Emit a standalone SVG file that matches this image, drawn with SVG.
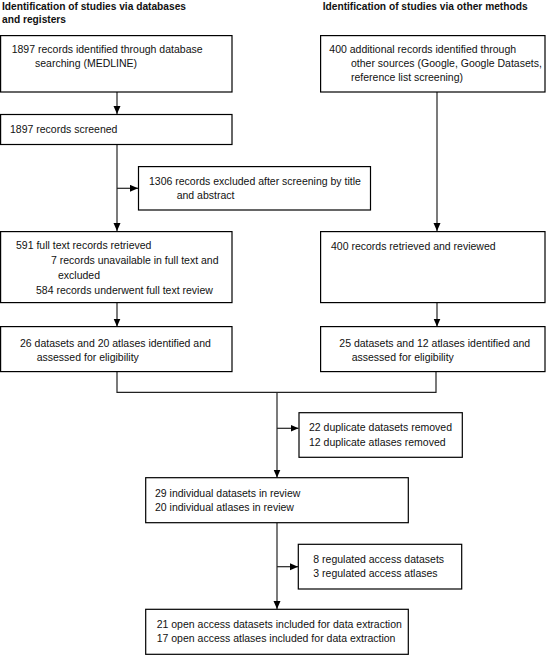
<svg xmlns="http://www.w3.org/2000/svg" width="553" height="655" viewBox="0 0 553 655">
<defs>
<marker id="arr" markerUnits="userSpaceOnUse" markerWidth="8" markerHeight="8" refX="8" refY="3.5" orient="auto">
<path d="M0,0 L8,3.5 L0,7 z" fill="#000"/>
</marker>
<style>
.box{fill:#fff;stroke:#000;stroke-width:1.2}
.t{font-family:"Liberation Sans",Arial,sans-serif;font-size:10.5px;fill:#111}
.h{font-family:"Liberation Sans",Arial,sans-serif;font-size:10.2px;font-weight:bold;fill:#111}
.c{fill:none;stroke:#222;stroke-width:1.2}
</style>
</defs>
<rect width="553" height="655" fill="#fff"/>
<g id="headers">
<text class="h" x="2" y="10">Identification of studies via databases</text>
<text class="h" x="2" y="23">and registers</text>
<text class="h" x="322.7" y="10">Identification of studies via other methods</text>
</g>
<g id="connectors">
<line class="c" x1="117" y1="92" x2="117" y2="114" marker-end="url(#arr)"/>
<line class="c" x1="117" y1="144.5" x2="117" y2="231" marker-end="url(#arr)"/>
<line class="c" x1="117" y1="188.3" x2="138" y2="188.3" marker-end="url(#arr)"/>
<line class="c" x1="117" y1="302.5" x2="117" y2="326.5" marker-end="url(#arr)"/>
<line class="c" x1="437" y1="92" x2="437" y2="231" marker-end="url(#arr)"/>
<line class="c" x1="437" y1="302.5" x2="437" y2="326.5" marker-end="url(#arr)"/>
<polyline class="c" points="117,371.5 117,392.3 436,392.3 436,371.5"/>
<line class="c" x1="277" y1="392.3" x2="277" y2="477.5" marker-end="url(#arr)"/>
<line class="c" x1="277" y1="428.3" x2="298.5" y2="428.3" marker-end="url(#arr)"/>
<line class="c" x1="277" y1="522.7" x2="277" y2="609" marker-end="url(#arr)"/>
<line class="c" x1="277" y1="566.7" x2="298" y2="566.7" marker-end="url(#arr)"/>
</g>
<g id="n1">
<rect class="box" x="0.6" y="35.6" width="231.4" height="56.4"/>
<text class="t" x="11.7" y="52.7">1897 records identified through database</text>
<text class="t" x="35" y="66.5">searching (MEDLINE)</text>
</g>
<g id="r1">
<rect class="box" x="320.6" y="35.6" width="224.4" height="56.4"/>
<text class="t" x="329.3" y="52.5">400 additional records identified through</text>
<text class="t" x="351" y="66.5">other sources (Google, Google Datasets,</text>
<text class="t" x="351" y="80.5">reference list screening)</text>
</g>
<g id="n2">
<rect class="box" x="0.6" y="114.5" width="231.4" height="30"/>
<text class="t" x="10" y="133">1897 records screened</text>
</g>
<g id="excl1">
<rect class="box" x="138.5" y="166.6" width="232" height="43.4"/>
<text class="t" x="149" y="184.5">1306 records excluded after screening by title</text>
<text class="t" x="176.7" y="199">and abstract</text>
</g>
<g id="n3">
<rect class="box" x="0.6" y="231.6" width="231.4" height="71"/>
<text class="t" x="16" y="248.5">591 full text records retrieved</text>
<text class="t" x="51" y="263.5">7 records unavailable in full text and</text>
<text class="t" x="58" y="278.5">excluded</text>
<text class="t" x="36" y="293.5">584 records underwent full text review</text>
</g>
<g id="r3">
<rect class="box" x="320.6" y="231.6" width="224.4" height="71"/>
<text class="t" x="331" y="249.5">400 records retrieved and reviewed</text>
</g>
<g id="n4">
<rect class="box" x="0.6" y="326.6" width="231.4" height="45"/>
<text class="t" x="20" y="347">26 datasets and 20 atlases identified and</text>
<text class="t" x="36.7" y="361">assessed for eligibility</text>
</g>
<g id="r4">
<rect class="box" x="320.6" y="326.6" width="224.4" height="45"/>
<text class="t" x="339.3" y="347">25 datasets and 12 atlases identified and</text>
<text class="t" x="351.7" y="361">assessed for eligibility</text>
</g>
<g id="dup">
<rect class="box" x="299" y="412.7" width="163.3" height="44.6"/>
<text class="t" x="309" y="431">22 duplicate datasets removed</text>
<text class="t" x="309" y="445.5">12 duplicate atlases removed</text>
</g>
<g id="n5">
<rect class="box" x="145.7" y="477.7" width="262.6" height="45"/>
<text class="t" x="155" y="497">29 individual datasets in review</text>
<text class="t" x="155" y="511">20 individual atlases in review</text>
</g>
<g id="reg">
<rect class="box" x="298.3" y="544.3" width="163.4" height="44.7"/>
<text class="t" x="313.3" y="562.5">8 regulated access datasets</text>
<text class="t" x="313.3" y="577">3 regulated access atlases</text>
</g>
<g id="n6">
<rect class="box" x="145.7" y="609.3" width="262.6" height="45"/>
<text class="t" x="156.7" y="627.5">21 open access datasets included for data extraction</text>
<text class="t" x="156.7" y="642">17 open access atlases included for data extraction</text>
</g>
</svg>
